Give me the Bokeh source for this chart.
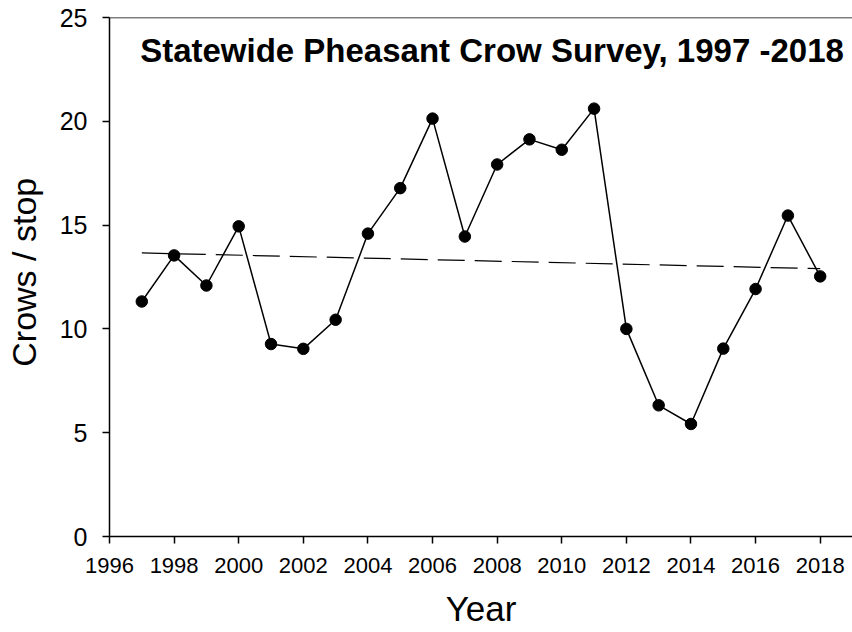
from bokeh.plotting import figure
from bokeh.models import Range1d, FixedTicker, Span, Label, ColumnDataSource
from bokeh.embed import file_html
from bokeh.resources import INLINE

# ---- data ----
years = [1997, 1998, 1999, 2000, 2001, 2002, 2003, 2004, 2005, 2006, 2007,
         2008, 2009, 2010, 2011, 2012, 2013, 2014, 2015, 2016, 2017, 2018]
crows_per_stop = [11.32, 13.54, 12.09, 14.94, 9.27, 9.04, 10.44, 14.59, 16.78, 20.13, 14.45,
                  17.92, 19.13, 18.63, 20.61, 10.00, 6.32, 5.42, 9.05, 11.92, 15.46, 12.53]
trend_years = [1997, 2018]
trend_values = [13.66, 12.90]
x_ticks = [1996, 1998, 2000, 2002, 2004, 2006, 2008, 2010, 2012, 2014, 2016, 2018]
y_ticks = [0, 5, 10, 15, 20, 25]
title_text = "Statewide Pheasant Crow Survey, 1997 -2018"

FONT = "Liberation Sans"

p = figure(width=852, height=632, output_backend="svg", toolbar_location=None,
           x_range=Range1d(1996, 2019), y_range=Range1d(0, 25),
           min_border_left=109, min_border_right=0, min_border_top=17, min_border_bottom=96)
p.outline_line_color = None
p.background_fill_color = "white"
p.border_fill_color = "white"
p.xgrid.grid_line_color = None
p.ygrid.grid_line_color = None

# axes
for ax in (p.xaxis[0], p.yaxis[0]):
    ax.axis_line_color = "black"
    ax.axis_line_width = 1.5
    ax.major_tick_line_color = "black"
    ax.major_tick_line_width = 1.5
    ax.major_tick_in = 0
    ax.major_tick_out = 7
    ax.minor_tick_line_color = None
    ax.major_label_text_font = FONT
    ax.major_label_text_color = "black"
    ax.axis_label_text_font = FONT
    ax.axis_label_text_font_style = "normal"
    ax.axis_label_text_color = "black"

p.xaxis[0].ticker = FixedTicker(ticks=x_ticks)
p.xaxis[0].major_label_text_font_size = "22px"
p.xaxis[0].major_label_standoff = 14
p.xaxis[0].axis_label = "Year"
p.xaxis[0].axis_label_text_font_size = "35px"
p.xaxis[0].axis_label_standoff = 13

p.yaxis[0].ticker = FixedTicker(ticks=y_ticks)
p.yaxis[0].major_label_text_font_size = "25px"
p.yaxis[0].major_label_standoff = 15
p.yaxis[0].axis_label = "\u00a0Crows / stop"
p.yaxis[0].axis_label_text_font_size = "34px"
p.yaxis[0].axis_label_standoff = 14

# top border line
p.add_layout(Span(location=p.y_range.end, dimension="width", line_color="black", line_width=1.5))

# trend line
p.line(trend_years, trend_values, line_color="black", line_width=1.2, line_dash="27 10")

# data
src = ColumnDataSource(dict(x=years, y=crows_per_stop))
p.line("x", "y", source=src, line_color="black", line_width=1.5)
p.scatter("x", "y", source=src, size=11.5, marker="circle", fill_color="black", line_color="black")

# title inside plot
p.add_layout(Label(x=2007.84, y=23.41, text=title_text,
                   text_font=FONT, text_font_style="bold", text_font_size="33px",
                   text_align="center", text_baseline="middle", text_color="black"))

open("out.html", "w").write(file_html(p, INLINE))
